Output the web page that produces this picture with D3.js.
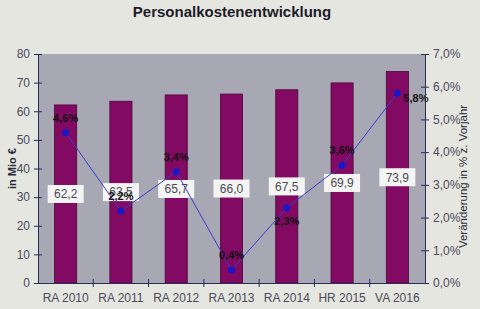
<!DOCTYPE html>
<html>
<head>
<meta charset="utf-8">
<script src="https://cdnjs.cloudflare.com/ajax/libs/d3/7.8.5/d3.min.js"></script>
<style>
  body { margin: 0; background: #e6e6e1; }
  svg { display: block; font-family: "Liberation Sans", Arial, sans-serif; }
  .axis path, .axis line { stroke: #2b2b5a; }
  .axis text { fill: #4a4a5a; font-size: 12px; }
</style>
</head>
<body>
<div id="chart"></div>
<script>
(function() {

  var categories = ['RA 2010', 'RA 2011', 'RA 2012', 'RA 2013', 'RA 2014', 'HR 2015', 'VA 2016'];
  var costs = [62.2, 63.5, 65.7, 66.0, 67.5, 69.9, 73.9];
  var change = [4.6, 2.2, 3.4, 0.4, 2.3, 3.6, 5.8];
  var changeLabelPos = ['above', 'above', 'above', 'above', 'below', 'above', 'right'];
  var leftTicks = [0, 10, 20, 30, 40, 50, 60, 70, 80];
  var rightTicks = [0, 1, 2, 3, 4, 5, 6, 7];

  var width = 480, height = 309;
  var margin = { top: 54, right: 55, bottom: 26, left: 38 };
  var chartWidth = width - margin.left - margin.right,
      chartHeight = height - margin.top - margin.bottom;

  var de = d3.formatLocale({ decimal: ',', thousands: '.', grouping: [3], currency: ['', ' €'] });
  var fmt1 = de.format('.1f');

  var svg = d3.select('#chart').append('svg')
      .attr('width', width)
      .attr('height', height);

  svg.append('text')
      .attr('x', 232)
      .attr('y', 17)
      .attr('text-anchor', 'middle')
      .attr('font-size', 15)
      .attr('font-weight', 'bold')
      .attr('fill', '#1c1c2a')
      .text('Personalkostenentwicklung');

  var g = svg.append('g')
      .attr('transform', 'translate(' + margin.left + ',' + margin.top + ')');

  var x = d3.scaleBand()
      .domain(categories)
      .range([0, chartWidth])
      .paddingInner(0.6)
      .paddingOuter(0.3);

  var yLeft = d3.scaleLinear().domain([0, 80]).range([chartHeight, 0]);
  var yRight = d3.scaleLinear().domain([0, 7]).range([chartHeight, 0]);

  g.append('rect')
      .attr('width', chartWidth)
      .attr('height', chartHeight)
      .attr('fill', '#a7a8b4');

  g.selectAll('.bar')
      .data(costs)
    .enter().append('rect')
      .attr('class', 'bar')
      .attr('x', function(d, i) { return x(categories[i]); })
      .attr('y', function(d) { return yLeft(d); })
      .attr('width', x.bandwidth())
      .attr('height', function(d) { return chartHeight - yLeft(d); })
      .attr('fill', '#820a62')
      .attr('stroke', '#4a0636')
      .attr('stroke-width', 0.8);

  var line = d3.line()
      .x(function(d, i) { return x(categories[i]) + x.bandwidth() / 2; })
      .y(function(d) { return yRight(d); });

  // value boxes in the middle of the bars
  var valueLabels = g.selectAll('.value')
      .data(costs)
    .enter().append('g')
      .attr('class', 'value')
      .attr('transform', function(d, i) {
        return 'translate(' + (x(categories[i]) + x.bandwidth() / 2) + ',' + yLeft(d / 2) + ')';
      });

  valueLabels.append('rect')
      .attr('x', -18)
      .attr('y', -9)
      .attr('width', 36)
      .attr('height', 18)
      .attr('fill', '#f4f4f2');

  valueLabels.append('text')
      .attr('text-anchor', 'middle')
      .attr('dy', '0.36em')
      .attr('font-size', 12)
      .attr('fill', '#4a4a55')
      .text(function(d) { return fmt1(d); });

  g.append('path')
      .datum(change)
      .attr('d', line)
      .attr('fill', 'none')
      .attr('stroke', '#3b3bd0')
      .attr('stroke-width', 1);

  g.selectAll('.dot')
      .data(change)
    .enter().append('circle')
      .attr('class', 'dot')
      .attr('cx', function(d, i) { return x(categories[i]) + x.bandwidth() / 2; })
      .attr('cy', function(d) { return yRight(d); })
      .attr('r', 3.5)
      .attr('fill', '#1818c8');

  g.selectAll('.pct')
      .data(change)
    .enter().append('text')
      .attr('class', 'pct')
      .attr('x', function(d, i) {
        var cx = x(categories[i]) + x.bandwidth() / 2;
        return changeLabelPos[i] === 'right' ? cx + 6 : cx;
      })
      .attr('y', function(d, i) {
        var cy = yRight(d);
        if (changeLabelPos[i] === 'above') return cy - 11;
        if (changeLabelPos[i] === 'below') return cy + 17;
        return cy + 9;
      })
      .attr('text-anchor', function(d, i) { return changeLabelPos[i] === 'right' ? 'start' : 'middle'; })
      .attr('font-size', 11)
      .attr('font-weight', 'bold')
      .attr('fill', '#111')
      .text(function(d) { return fmt1(d) + '%'; });

  g.append('g')
      .attr('class', 'axis')
      .call(d3.axisLeft(yLeft).tickValues(leftTicks).tickSize(4).tickPadding(4))
      .call(function(a) { a.selectAll('.tick line').attr('x2', 4).attr('x1', -4); });

  g.append('g')
      .attr('class', 'axis')
      .attr('transform', 'translate(' + chartWidth + ',0)')
      .call(d3.axisRight(yRight).tickValues(rightTicks).tickSize(4).tickPadding(4)
        .tickFormat(function(d) { return fmt1(d) + '%'; }))
      .call(function(a) { a.selectAll('.tick line').attr('x1', -4).attr('x2', 4); });

  var xAxis = g.append('g')
      .attr('class', 'axis')
      .attr('transform', 'translate(0,' + chartHeight + ')')
      .call(d3.axisBottom(x).tickSize(0).tickPadding(10));

  xAxis.selectAll('.bound')
      .data(categories.slice(1))
    .enter().append('line')
      .attr('class', 'bound')
      .attr('x1', function(d) { return x(d) - x.step() * x.paddingInner() / 2; })
      .attr('x2', function(d) { return x(d) - x.step() * x.paddingInner() / 2; })
      .attr('y1', -4)
      .attr('y2', 4);

  svg.append('text')
      .attr('transform', 'translate(16,' + (margin.top + chartHeight / 2) + ') rotate(-90)')
      .attr('text-anchor', 'middle')
      .attr('font-size', 11)
      .attr('font-weight', 'bold')
      .attr('fill', '#2a2a3a')
      .text('in Mio €');

  svg.append('text')
      .attr('transform', 'translate(467,' + (margin.top + chartHeight / 2 + 8) + ') rotate(-90)')
      .attr('text-anchor', 'middle')
      .attr('font-size', 11.5)
      .attr('fill', '#2a2a3a')
      .text('Veränderung in % z. Vorjahr');

})()
</script>
</body>
</html>
